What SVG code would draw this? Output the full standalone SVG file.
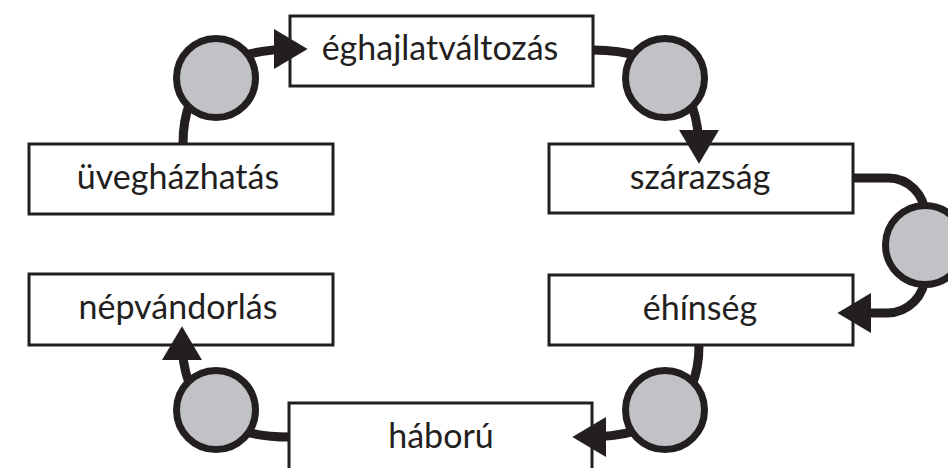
<svg xmlns="http://www.w3.org/2000/svg" width="948" height="468" viewBox="0 0 948 468">
  <style>
    .box { fill: #ffffff; stroke: #231f20; stroke-width: 3; }
    .lbl { font-family: Lato, "Liberation Sans", sans-serif; font-size: 34px; fill: #231f20; text-anchor: middle; }
    .link { fill: none; stroke: #231f20; stroke-width: 9; marker-end: url(#arrow); }
    .dot { fill: #c1c2c5; stroke: #231f20; stroke-width: 7; }
  </style>
  <defs>
    <marker id="arrow" markerUnits="userSpaceOnUse" markerWidth="34" markerHeight="40" viewBox="0 0 32 38" refX="20" refY="19" orient="auto">
      <path d="M0,0 L32,19 L0,38 Z" fill="#231f20"/>
    </marker>
  </defs>
  <rect width="948" height="468" fill="#ffffff"/>

  <g id="nodes">
    <g id="eghajlatvaltozas">
      <rect class="box" x="290" y="16" width="303" height="70"/>
      <text class="lbl" x="440" y="60">éghajlatváltozás</text>
    </g>
    <g id="uveghazhatas">
      <rect class="box" x="29" y="144" width="304" height="70"/>
      <text class="lbl" x="178" y="189">üvegházhatás</text>
    </g>
    <g id="szarazsag">
      <rect class="box" x="549" y="144" width="304" height="69"/>
      <text class="lbl" x="700" y="189">szárazság</text>
    </g>
    <g id="nepvandorlas">
      <rect class="box" x="29" y="274" width="304" height="71"/>
      <text class="lbl" x="178" y="319">népvándorlás</text>
    </g>
    <g id="ehinseg">
      <rect class="box" x="549" y="275" width="304" height="70"/>
      <text class="lbl" x="700" y="320">éhínség</text>
    </g>
    <g id="haboru">
      <rect class="box" x="289" y="403" width="303" height="80"/>
      <text class="lbl" x="441" y="448">háború</text>
    </g>
  </g>

  <g id="connectors">
    <path class="link" d="M183,144 Q183,49 295,49"/>
    <path class="link" d="M593,50 Q699,50 699,151"/>
    <path class="link" d="M853,178 H888 A37,37 0 0 1 925,215 V275 A38,38 0 0 1 887,313 H850"/>
    <path class="link" d="M699,345 Q699,437 585,437"/>
    <path class="link" d="M289,437 Q182,437 182,339"/>
  </g>

  <g id="junctions">
    <circle id="j1" class="dot" cx="216" cy="78" r="39.5"/>
    <circle id="j2" class="dot" cx="665" cy="78" r="39.5"/>
    <circle id="j3" class="dot" cx="925" cy="245" r="39.5"/>
    <circle id="j4" class="dot" cx="665" cy="410" r="39.5"/>
    <circle id="j5" class="dot" cx="216" cy="410" r="39.5"/>
  </g>
</svg>
